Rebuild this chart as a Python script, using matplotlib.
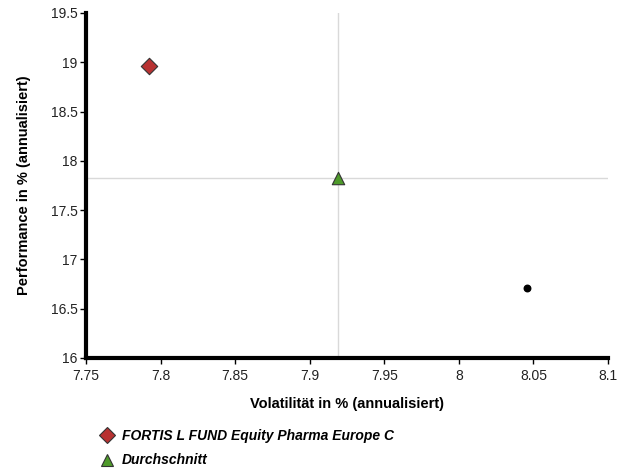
import matplotlib.pyplot as plt
from matplotlib.lines import Line2D

plt.rcParams['font.family'] = ['Liberation Sans', 'DejaVu Sans']

fund_name = 'FORTIS L FUND Equity Pharma Europe C'
fund_vol = [7.792]
fund_perf = [18.96]

avg_name = 'Durchschnitt'
avg_vol = [7.919]
avg_perf = [17.83]

other_vol = [8.046]
other_perf = [16.71]

x_ticks = [7.75, 7.8, 7.85, 7.9, 7.95, 8.0, 8.05, 8.1]
x_labels = ['7.75', '7.8', '7.85', '7.9', '7.95', '8', '8.05', '8.1']
y_ticks = [16, 16.5, 17, 17.5, 18, 18.5, 19, 19.5]
y_labels = ['16', '16.5', '17', '17.5', '18', '18.5', '19', '19.5']

fig = plt.figure(figsize=(6.31, 4.69), dpi=100)
ax = fig.add_axes([0.1363, 0.2367, 0.8272, 0.7356])

# crosshair at the average
ax.axvline(avg_vol[0], color='#d9d9d9', lw=1, zorder=1)
ax.axhline(avg_perf[0], color='#d9d9d9', lw=1, zorder=1)

ax.scatter(fund_vol, fund_perf, marker='D', s=70, color='#b83232',
           edgecolors='#333333', linewidths=0.8, zorder=3)
ax.scatter(avg_vol, avg_perf, marker='^', s=80, color='#4e9a2a',
           edgecolors='#333333', linewidths=0.8, zorder=3)
ax.scatter(other_vol, other_perf, marker='o', s=22, color='black', zorder=3)

ax.set_xlim(7.75, 8.1)
ax.set_ylim(16, 19.5)
ax.set_xticks(x_ticks)
ax.set_xticklabels(x_labels)
ax.set_yticks(y_ticks)
ax.set_yticklabels(y_labels)
ax.tick_params(labelsize=10, length=4, width=1, color='black', labelcolor='#222222')
ax.tick_params(axis='x', pad=4)
ax.tick_params(axis='y', pad=2)

for side in ['top', 'right']:
    ax.spines[side].set_visible(False)
for side in ['left', 'bottom']:
    ax.spines[side].set_linewidth(3)

ax.set_xlabel('Volatilität in % (annualisiert)', fontsize=10.5, fontweight='bold', labelpad=10)
ax.set_ylabel('Performance in % (annualisiert)', fontsize=10.5, fontweight='bold', labelpad=14)

handles = [
    Line2D([], [], ls='none', marker='D', markersize=8, color='#b83232',
           markeredgecolor='#333333', markeredgewidth=0.8),
    Line2D([], [], ls='none', marker='^', markersize=9, color='#4e9a2a',
           markeredgecolor='#333333', markeredgewidth=0.8),
]
fig.legend(handles, [fund_name, avg_name], loc='upper left',
           bbox_to_anchor=(0.147, 0.097), frameon=False, handletextpad=0.5,
           labelspacing=0.75, handlelength=1.2, borderaxespad=0,
           prop={'size': 10, 'weight': 'bold', 'style': 'italic'})

fig.savefig('out.png', dpi=100)
